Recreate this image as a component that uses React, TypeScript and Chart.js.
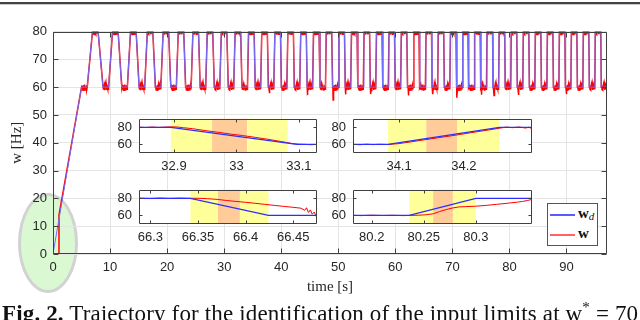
import React, { useEffect, useRef } from "react";
import { Chart, registerables } from "chart.js";
Chart.register(...registerables);

// ---------- main axes ----------
const X_MAX = 97.1;
const mainXTicks = [0, 10, 20, 30, 40, 50, 60, 70, 80, 90];
const mainYTicks = [0, 10, 20, 30, 40, 50, 60, 70, 80];
const LOW = 60;
const HIGH = 80;

// start-up phase (time, Hz)
const startBlue = [[0, 0], [5.0, 60]];
const startRed = [[0, 0], [1.05, 0], [1.05, 14], [5.0, 60]];

// switching instants of w_d (start of each ramp) and ramp durations [s]
const rampStart = [
  6.0, 7.9, 9.75, 11.41, 13.03, 14.57, 16.07, 17.51, 18.92, 20.28,
  21.62, 22.93, 24.21, 25.5, 26.76, 28.01, 29.25, 30.48, 31.69, 32.895,
  34.083, 35.25, 36.411, 37.566, 38.716, 39.861, 41.001, 42.136, 43.267, 44.394,
  45.517, 46.637, 47.754, 48.867, 49.977, 51.084, 52.189, 53.291, 54.391, 55.488,
  56.583, 57.676, 58.767, 59.856, 60.943, 62.028, 63.111, 64.193, 65.273, 66.342,
  67.419, 68.494, 69.568, 70.64, 71.711, 72.78, 73.848, 74.914, 75.979, 77.043,
  78.105, 79.166, 80.236, 81.295, 82.353, 83.41, 84.466, 85.521, 86.575, 87.628,
  88.68, 89.731, 90.782, 91.832, 92.881, 93.929, 94.977, 96.024,
];
const rampDur = [
  0.9, 0.85, 0.66, 0.62, 0.54, 0.5, 0.44, 0.41, 0.36, 0.34,
  0.31, 0.29, 0.289, 0.272, 0.256, 0.243, 0.23, 0.219, 0.209, 0.202,
  0.172, 0.166, 0.16, 0.155, 0.15, 0.145, 0.14, 0.136, 0.132, 0.128,
  0.125, 0.122, 0.118, 0.115, 0.112, 0.11, 0.107, 0.105, 0.102, 0.1,
  0.098, 0.096, 0.094, 0.092, 0.09, 0.088, 0.087, 0.085, 0.083, 0.082,
  0.08, 0.079, 0.077, 0.076, 0.074, 0.073, 0.071, 0.07, 0.069, 0.067,
  0.066, 0.065, 0.064, 0.063, 0.062, 0.061, 0.06, 0.059, 0.058, 0.057,
  0.056, 0.056, 0.055, 0.054, 0.053, 0.053, 0.052, 0.051,
];
const redLag = 0.03;
const plateauNoise = [0.6, -0.9, 0.4, -1.1, 0.8, -0.5, 0.9, -1.0, 0.3, -0.7, 0.7, -0.8];
const spikes = [
  [37.9, 57.8], [44.6, 57.2], [49.1, 55.4], [51.3, 57.4], [55.7, 57.5],
  [62.3, 57.0], [66.6, 57.5], [70.8, 56.2], [75.1, 57.3], [77.3, 57.0],
  [81.6, 57.2], [90.0, 57.5],
];

// ---------- insets ----------
const insetY = [50, 90];
const insetYTicks = [60, 80];
const inset1X = [32.844, 33.129];
const inset1Ticks = [32.9, 33, 33.1];
const inset1Labels = ["32.9", "33", "33.1"];
const inset1Bands = [32.895, 32.961, 33.017, 33.082];
const inset1Red = [
  [32.844, 80.2], [32.855, 79.8], [32.865, 80.4], [32.875, 79.9], [32.885, 80.3],
  [32.895, 80.6], [32.905, 80.4], [32.915, 79.6], [32.93, 78.4], [32.95, 76.2],
  [32.97, 74.3], [32.99, 72.2], [33.01, 70.4], [33.03, 68.3], [33.05, 66.1],
  [33.07, 63.6], [33.09, 61.0], [33.1, 60.3], [33.11, 60.1], [33.12, 59.7], [33.129, 60.1],
];
const inset2X = [34.029, 34.305];
const inset2Ticks = [34.1, 34.2];
const inset2Labels = ["34.1", "34.2"];
const inset2Bands = [34.083, 34.142, 34.19, 34.255];
const inset2Red = [
  [34.029, 60.1], [34.04, 59.7], [34.05, 60.3], [34.06, 59.8], [34.07, 60.2],
  [34.083, 59.9], [34.1, 61.0], [34.12, 63.2], [34.14, 65.5], [34.16, 67.8],
  [34.18, 70.0], [34.2, 72.4], [34.22, 74.8], [34.24, 77.2], [34.255, 79.0],
  [34.265, 80.3], [34.275, 79.6], [34.285, 80.4], [34.295, 79.2], [34.3, 80.1], [34.305, 78.5],
];
const inset3X = [66.288, 66.475];
const inset3Ticks = [66.3, 66.35, 66.4, 66.45];
const inset3Labels = ["66.3", "66.35", "66.4", "66.45"];
const inset3Bands = [66.342, 66.371, 66.394, 66.424];
const inset3Red = [
  [66.288, 80.2], [66.3, 79.8], [66.31, 80.4], [66.32, 79.9], [66.33, 80.3],
  [66.342, 80.0], [66.35, 80.1], [66.36, 79.6], [66.37, 78.8], [66.38, 77.5],
  [66.39, 76.4], [66.4, 75.4], [66.41, 74.2], [66.42, 73.0], [66.43, 71.8],
  [66.44, 70.6], [66.45, 69.5], [66.458, 68.5], [66.462, 66.0], [66.464, 69.0],
  [66.466, 63.5], [66.468, 66.5], [66.47, 61.5], [66.472, 64.0], [66.474, 59.5], [66.475, 57.0],
];
const inset4X = [80.182, 80.354];
const inset4Ticks = [80.2, 80.25, 80.3];
const inset4Labels = ["80.2", "80.25", "80.3"];
const inset4Bands = [80.236, 80.259, 80.278, 80.3];
const inset4Red = [
  [80.182, 60.1], [80.19, 59.8], [80.2, 60.3], [80.21, 59.9], [80.22, 60.2],
  [80.23, 59.8], [80.236, 60.0], [80.245, 60.3], [80.252, 60.8], [80.259, 61.9],
  [80.265, 64.5], [80.272, 67.0], [80.278, 68.8], [80.284, 70.0], [80.29, 70.3],
  [80.3, 70.8], [80.31, 71.8], [80.32, 73.0], [80.33, 74.2], [80.34, 75.6],
  [80.345, 76.4], [80.35, 77.6], [80.354, 78.8],
];

// ---------- builders ----------
type P = { x: number; y: number };
function buildBlue(): P[] {
  const pts: P[] = startBlue.map(([x, y]) => ({ x, y }));
  let level = LOW;
  for (let i = 0; i < rampStart.length; i++) {
    const to = level === LOW ? HIGH : LOW;
    pts.push({ x: rampStart[i], y: level });
    pts.push({ x: rampStart[i] + rampDur[i], y: to });
    level = to;
  }
  pts.push({ x: X_MAX, y: level });
  return pts;
}
function buildRed(): P[] {
  const pts: P[] = startRed.map(([x, y]) => ({ x, y }));
  const addPlateau = (a: number, b: number, level: number) => {
    const n = plateauNoise.length;
    for (let k = 0; k < n; k++) pts.push({ x: a + ((b - a) * (k + 0.5)) / n, y: level + plateauNoise[k] });
  };
  let level = LOW;
  let pStart = startRed[startRed.length - 1][0];
  for (let i = 0; i < rampStart.length; i++) {
    const to = level === LOW ? HIGH : LOW;
    addPlateau(pStart, rampStart[i], level);
    pts.push({ x: rampStart[i], y: level });
    const end = rampStart[i] + rampDur[i] + redLag;
    pts.push({ x: end, y: to });
    pStart = end;
    level = to;
  }
  addPlateau(pStart, X_MAX, level);
  pts.push({ x: X_MAX, y: level });
  spikes.forEach(([x, y]) => pts.push({ x, y }));
  pts.sort((a, b) => a.x - b.x);
  return pts;
}
const toPts = (arr: number[][]): P[] => arr.map(([x, y]) => ({ x, y }));

const BLUE = "rgb(45,45,255)";
const BLUE_MAIN = "rgb(110,110,255)";
const RED = "rgb(255,0,0)";
const AXIS = "#404040";
const TXT = "#262626";

function boxPlugin(xt: number[], yt: number[], len: number, white: boolean, bands?: number[]) {
  return {
    id: "boxdeco",
    beforeDraw(chart: any) {
      const { ctx, chartArea: a, scales } = chart;
      ctx.save();
      if (white) {
        ctx.fillStyle = "#ffffff";
        ctx.fillRect(a.left, a.top, a.right - a.left, a.bottom - a.top);
      }
      if (bands) {
        const cols = ["rgb(255,255,153)", "rgb(255,204,153)", "rgb(255,255,153)"];
        for (let i = 0; i < 3; i++) {
          const x0 = scales.x.getPixelForValue(bands[i]);
          const x1 = scales.x.getPixelForValue(bands[i + 1]);
          ctx.fillStyle = cols[i];
          ctx.fillRect(x0, a.top, x1 - x0, a.bottom - a.top);
        }
      }
      ctx.restore();
    },
    afterDatasetsDraw(chart: any) {
      const { ctx, chartArea: a, scales } = chart;
      ctx.save();
      ctx.strokeStyle = AXIS;
      ctx.lineWidth = 1;
      const L = Math.round(a.left) + 0.5, R = Math.round(a.right) - 0.5;
      const T = Math.round(a.top) + 0.5, B = Math.round(a.bottom) - 0.5;
      ctx.beginPath();
      ctx.rect(L, T, R - L, B - T);
      xt.forEach((v) => {
        const px = Math.round(scales.x.getPixelForValue(v)) + 0.5;
        ctx.moveTo(px, B); ctx.lineTo(px, B - len);
        ctx.moveTo(px, T); ctx.lineTo(px, T + len);
      });
      yt.forEach((v) => {
        const py = Math.round(scales.y.getPixelForValue(v)) + 0.5;
        ctx.moveTo(L, py); ctx.lineTo(L + len, py);
        ctx.moveTo(R, py); ctx.lineTo(R - len, py);
      });
      ctx.stroke();
      ctx.restore();
    },
  };
}

const tickFont = { family: "Liberation Sans", size: 13 };

function mainConfig(): any {
  return {
    type: "line",
    data: {
      datasets: [
        { label: "wd", data: buildBlue(), borderColor: BLUE_MAIN, borderWidth: 1, pointRadius: 0, tension: 0 },
        { label: "w", data: buildRed(), borderColor: RED, borderWidth: 1.5, pointRadius: 0, tension: 0 },
      ],
    },
    options: {
      responsive: false,
      animation: false,
      events: [],
      layout: { padding: { left: 0, top: 31.5, right: 33, bottom: 0 } },
      plugins: { legend: { display: false }, tooltip: { enabled: false } },
      scales: {
        x: {
          type: "linear", min: 0, max: X_MAX,
          afterBuildTicks: (s: any) => { s.ticks = mainXTicks.map((v) => ({ value: v })); },
          afterFit: (s: any) => { s.height = 46; },
          grid: { color: "#e4e4e4", drawTicks: false },
          border: { display: false },
          ticks: { padding: 6, color: TXT, font: tickFont, maxRotation: 0, autoSkip: false },
          title: { display: true, text: "time [s]", color: TXT, font: { family: "Liberation Serif", size: 15 }, padding: { top: 0, bottom: 4 } },
        },
        y: {
          type: "linear", min: 0, max: 80,
          afterBuildTicks: (s: any) => { s.ticks = mainYTicks.map((v) => ({ value: v })); },
          afterFit: (s: any) => { s.width = 53; },
          grid: { color: "#e4e4e4", drawTicks: false },
          border: { display: false },
          ticks: { padding: 6, color: TXT, font: tickFont, autoSkip: false },
          title: { display: true, text: "w [Hz]", color: TXT, font: { family: "Liberation Serif", size: 15 }, padding: { top: 8, bottom: 0 } },
        },
      },
    },
    plugins: [boxPlugin(mainXTicks, mainYTicks, 5, false)],
  };
}

function insetConfig(xr: number[], xt: number[], xl: string[], bands: number[], red: number[][]): any {
  return {
    type: "line",
    data: {
      datasets: [
        { label: "wd", data: buildBlue(), borderColor: BLUE, borderWidth: 1.2, pointRadius: 0, tension: 0 },
        { label: "w", data: toPts(red), borderColor: RED, borderWidth: 1, pointRadius: 0, tension: 0 },
      ],
    },
    options: {
      responsive: false,
      animation: false,
      events: [],
      layout: { padding: { left: 0, top: 6, right: 22, bottom: 0 } },
      plugins: { legend: { display: false }, tooltip: { enabled: false } },
      scales: {
        x: {
          type: "linear", min: xr[0], max: xr[1],
          afterBuildTicks: (s: any) => { s.ticks = xt.map((v) => ({ value: v })); },
          afterFit: (s: any) => { s.height = 26; },
          grid: { display: false, drawTicks: false },
          border: { display: false },
          ticks: { padding: 6, color: TXT, font: tickFont, maxRotation: 0, autoSkip: false, callback: (_v: any, i: number) => xl[i] },
        },
        y: {
          type: "linear", min: insetY[0], max: insetY[1],
          afterBuildTicks: (s: any) => { s.ticks = insetYTicks.map((v) => ({ value: v })); },
          afterFit: (s: any) => { s.width = 32; },
          grid: { display: false, drawTicks: false },
          border: { display: false },
          ticks: { padding: 7, color: TXT, font: tickFont, autoSkip: false },
        },
      },
    },
    plugins: [boxPlugin(xt, insetYTicks, 3, true, bands)],
  };
}

function ChartCanvas(props: { left: number; top: number; width: number; height: number; make: () => any; z: number }) {
  const ref = useRef<HTMLCanvasElement>(null);
  useEffect(() => {
    const chart = new Chart(ref.current as HTMLCanvasElement, props.make());
    return () => chart.destroy();
  }, []);
  return (
    <canvas
      ref={ref}
      width={props.width}
      height={props.height}
      style={{ position: "absolute", left: props.left, top: props.top, width: props.width, height: props.height, zIndex: props.z }}
    />
  );
}

function inset(boxL: number, boxT: number, boxW: number, make: () => any) {
  return <ChartCanvas left={boxL - 32} top={boxT - 6} width={boxW + 32 + 22} height={43 + 6 + 26} make={make} z={2} />;
}

export default function App() {
  return (
    <div style={{ position: "absolute", left: 0, top: 0, width: 640, height: 320, overflow: "hidden", background: "#fff" }}>
      <div style={{ position: "absolute", left: 0, top: 2, width: 640, height: 2, background: "#444" }} />
      <div style={{ position: "absolute", left: 0, top: 4, width: 640, height: 1, background: "#c8c8c8" }} />
      <div
        style={{
          position: "absolute", left: 18, top: 193, width: 60, height: 100, borderRadius: "50%",
          background: "rgb(218,248,210)", border: "3px solid #d2d2d2", boxSizing: "border-box", zIndex: 0,
        }}
      />
      <ChartCanvas left={0} top={0} width={640} height={300} make={mainConfig} z={1} />
      {inset(139, 110, 178, () => insetConfig(inset1X, inset1Ticks, inset1Labels, inset1Bands, inset1Red))}
      {inset(353, 110, 179, () => insetConfig(inset2X, inset2Ticks, inset2Labels, inset2Bands, inset2Red))}
      {inset(139, 181, 178, () => insetConfig(inset3X, inset3Ticks, inset3Labels, inset3Bands, inset3Red))}
      {inset(353, 181, 179, () => insetConfig(inset4X, inset4Ticks, inset4Labels, inset4Bands, inset4Red))}
      <div
        style={{
          position: "absolute", left: 547, top: 203, width: 51, height: 43, boxSizing: "border-box",
          border: "1px solid #555", background: "#fff", zIndex: 3, fontFamily: "Liberation Serif",
        }}
      >
        <div style={{ position: "absolute", left: 2, top: 10, width: 25, height: 1.5, background: "rgb(90,90,255)" }} />
        <div style={{ position: "absolute", left: 30, top: 1, fontSize: 15, fontWeight: "bold", color: "#111", whiteSpace: "nowrap" }}>
          w<sub style={{ fontSize: 11, fontStyle: "italic", fontWeight: "normal", verticalAlign: -2 }}>d</sub>
        </div>
        <div style={{ position: "absolute", left: 2, top: 30, width: 25, height: 1.5, background: "rgb(255,100,100)" }} />
        <div style={{ position: "absolute", left: 30, top: 21, fontSize: 15, fontWeight: "bold", color: "#111", whiteSpace: "nowrap" }}>w</div>
      </div>
      <div
        style={{
          position: "absolute", left: 2, top: 299, fontFamily: "Liberation Serif", fontSize: 23, color: "#111",
          whiteSpace: "nowrap", lineHeight: "normal", zIndex: 3, letterSpacing: 0.15,
        }}
      >
        <b>Fig. 2.</b> Trajectory for the identification of the input limits at w<sup style={{ fontSize: 15 }}>*</sup> = 70
      </div>
    </div>
  );
}
